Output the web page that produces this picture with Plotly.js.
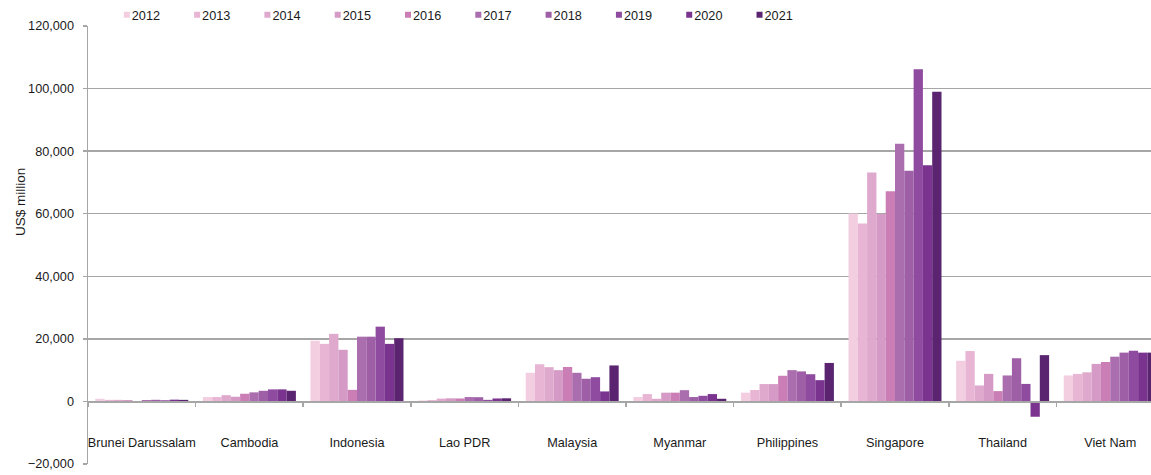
<!DOCTYPE html>
<html>
<head>
<meta charset="utf-8">
<script src="https://cdn.plot.ly/plotly-3.0.1.min.js"></script>
<style>html,body{margin:0;padding:0;background:#fff;}#chart{width:1151px;height:475px;}</style>
</head>
<body>
<div id="chart"></div>
<script>
const countries = ['Brunei Darussalam','Cambodia','Indonesia','Lao PDR','Malaysia','Myanmar','Philippines','Singapore','Thailand','Viet Nam'];
const years = ['2012','2013','2014','2015','2016','2017','2018','2019','2020','2021'];
const fdi2012 = [850, 1400, 19400, 300, 9150, 1400, 2800, 60100, 13000, 8300];
const fdi2013 = [500, 1400, 18400, 430, 11900, 2350, 3650, 56900, 16100, 8800];
const fdi2014 = [500, 2000, 21600, 900, 10950, 850, 5550, 73200, 5100, 9300];
const fdi2015 = [450, 1500, 16500, 1000, 10000, 2800, 5550, 59900, 8800, 12000];
const fdi2016 = [-150, 2450, 3700, 950, 11000, 2800, 8200, 67200, 3300, 12600];
const fdi2017 = [460, 2900, 20700, 1400, 9150, 3600, 10000, 82400, 8300, 14300];
const fdi2018 = [520, 3400, 20700, 1350, 7250, 1400, 9600, 73700, 13800, 15600];
const fdi2019 = [380, 3850, 23900, 500, 7750, 1800, 8700, 106200, 5600, 16200];
const fdi2020 = [570, 3850, 18400, 950, 3200, 2350, 6800, 75500, -4900, 15600];
const fdi2021 = [500, 3400, 20200, 1000, 11500, 850, 12300, 99000, 14800, 15600];
const seriesValues = [fdi2012, fdi2013, fdi2014, fdi2015, fdi2016, fdi2017, fdi2018, fdi2019, fdi2020, fdi2021];
const colors = ['#F3CDE0','#E8B5D4','#DFA8CD','#D59BC6','#CA7EB5','#AA6DAE','#9E5FA7','#8F4B9F','#7A3490','#5B2470'];
const yTitle = 'US$ million';

const FONT = '"Liberation Sans", Arial, sans-serif';
const FS = 12.7;
const grid = '#A6A6A6';
const txt = '#1a1a1a';

const traces = [];
years.forEach((yr, i) => {
  traces.push({
    type: 'bar', name: yr, x: countries, y: seriesValues[i],
    marker: {color: colors[i], line: {width: 0}},
    showlegend: false, hoverinfo: 'x+y+name'
  });
});
years.forEach((yr, i) => {
  traces.push({
    type: 'scatter', mode: 'markers', name: yr, x: [null], y: [null],
    marker: {symbol: 'square', size: 6, color: colors[i]},
    showlegend: true, hoverinfo: 'skip'
  });
});

const layout = {
  width: 1151, height: 475,
  margin: {l: 88, r: 0, t: 26, b: 11, pad: 0, autoexpand: false},
  paper_bgcolor: '#fff', plot_bgcolor: '#fff',
  font: {family: FONT, size: FS, color: txt},
  barmode: 'group', bargap: 0.136, bargroupgap: 0,
  showlegend: true,
  legend: {
    orientation: 'h', x: 0.0177, y: 1 - 4 / 438, xanchor: 'left', yanchor: 'bottom',
    font: {family: FONT, size: FS, color: txt},
    entrywidth: 25.3, itemwidth: 30, traceorder: 'normal',
    bgcolor: 'rgba(0,0,0,0)', borderwidth: 0, tracegroupgap: 0
  },
  xaxis: {
    type: 'category', range: [-0.5, 9.379],
    anchor: 'free', position: 20000 / 140000,
    showline: true, linecolor: grid, linewidth: 1.5,
    ticks: 'outside', tickson: 'boundaries', ticklen: 4, tickcolor: grid, tickwidth: 1.5,
    tickangle: 0, ticklabelstandoff: 29,
    showgrid: false, zeroline: false, fixedrange: true,
    tickfont: {family: FONT, size: FS, color: txt}
  },
  yaxis: {
    range: [-20000, 120000], dtick: 20000, tick0: 0,
    tickformat: ',d',
    showline: true, linecolor: grid, linewidth: 1.5,
    ticks: 'outside', ticklen: 4, tickcolor: grid, tickwidth: 1.5,
    showgrid: true, gridcolor: grid, gridwidth: 1.5,
    zeroline: true, zerolinecolor: grid, zerolinewidth: 1.5,
    ticklabelstandoff: 6,
    tickfont: {family: FONT, size: FS, color: txt},
    fixedrange: true
  },
  annotations: [{
    text: yTitle, textangle: -90, showarrow: false,
    xref: 'paper', yref: 'paper', x: (20 - 88) / 1063, y: (464 - 202) / 438,
    xanchor: 'center', yanchor: 'middle',
    font: {family: FONT, size: 13.5, color: txt}
  }]
};

Plotly.newPlot('chart', traces, layout, {displayModeBar: false, staticPlot: true}).then(() => {
  document.querySelectorAll('#chart .legend [clip-path]').forEach(el => el.removeAttribute('clip-path'));
  // tighten the gap between each legend swatch and its label
  document.querySelectorAll('#chart .legend .legendtext').forEach(el => {
    const x = parseFloat(el.getAttribute('x')) || 40;
    el.setAttribute('x', x - 15);
  });
});
</script>
</body>
</html>
